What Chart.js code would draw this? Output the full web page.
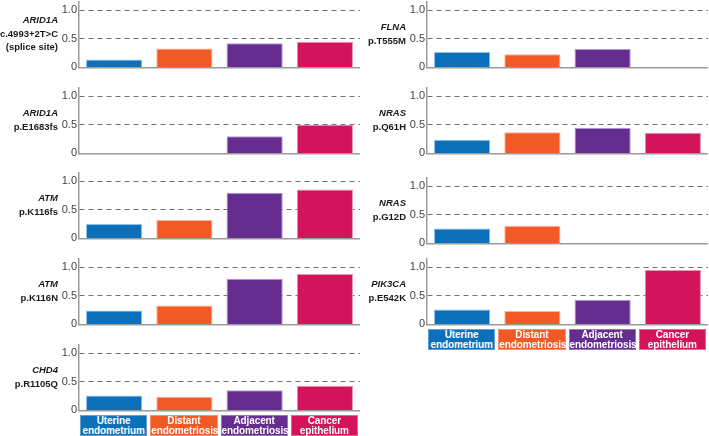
<!DOCTYPE html>
<html>
<head>
<meta charset="utf-8">
<script src="https://cdn.jsdelivr.net/npm/chart.js@4/dist/chart.umd.min.js"></script>
<style>
  body { margin: 0; width: 709px; height: 436px; background: #fff; position: relative; overflow: hidden;
         font-family: "Liberation Sans", Arial, sans-serif; }
  canvas { position: absolute; }
  .gene { position: absolute; text-align: right; font-weight: bold; font-size: 9.5px; line-height: 13.5px;
          color: #1a1a1a; transform: translateY(-50%); white-space: nowrap; }
  .leg { position: absolute; color: #fff; font-size: 10px; font-weight: bold; line-height: 10px; text-align: center;
         height: 21px; box-sizing: border-box; padding-top: 0; white-space: nowrap; letter-spacing: -0.1px;
         border: 1px solid rgba(255,255,255,0.35); }
</style>
</head>
<body>
<script>
// categories / colours
const categories = ['Uterine endometrium', 'Distant endometriosis', 'Adjacent endometriosis', 'Cancer epithelium'];
const legendLines = [['Uterine', 'endometrium'], ['Distant', 'endometriosis'], ['Adjacent', 'endometriosis'], ['Cancer', 'epithelium']];
const colors = ['#0b6fba', '#f15a24', '#662d91', '#d4145a'];
const edgeColors = ['#8fc0e6', '#f8b49a', '#b59ad0', '#ee93b5'];
const yTicks = [0, 0.5, 1];

// allele fractions per mutation
const arid1aSplice = [0.14, 0.33, 0.42, 0.45];
const arid1aE1683fs = [null, null, 0.30, 0.50];
const atmK116fs = [0.25, 0.32, 0.80, 0.855];
const atmK116N = [0.245, 0.33, 0.80, 0.88];
const chd4R1105Q = [0.26, 0.24, 0.35, 0.43];
const flnaT555M = [0.27, 0.23, 0.32, null];
const nrasQ61H = [0.24, 0.37, 0.45, 0.36];
const nrasG12D = [0.26, 0.31, null, null];
const pik3caE542K = [0.26, 0.235, 0.43, 0.95];

const panels = [
  { gene: 'ARID1A', variant: ['c.4993+2T>C', '(splice site)'], values: arid1aSplice, col: 0, zero: 67 },
  { gene: 'ARID1A', variant: ['p.E1683fs'], values: arid1aE1683fs, col: 0, zero: 153 },
  { gene: 'ATM', variant: ['p.K116fs'], values: atmK116fs, col: 0, zero: 238 },
  { gene: 'ATM', variant: ['p.K116N'], values: atmK116N, col: 0, zero: 324 },
  { gene: 'CHD4', variant: ['p.R1105Q'], values: chd4R1105Q, col: 0, zero: 410, legend: true },
  { gene: 'FLNA', variant: ['p.T555M'], values: flnaT555M, col: 1, zero: 67 },
  { gene: 'NRAS', variant: ['p.Q61H'], values: nrasQ61H, col: 1, zero: 153 },
  { gene: 'NRAS', variant: ['p.G12D'], values: nrasG12D, col: 1, zero: 243 },
  { gene: 'PIK3CA', variant: ['p.E542K'], values: pik3caE542K, col: 1, zero: 324, legend: true },
];

const colLeft = [49, 397];     // canvas left
const labelRight = [58, 406];  // gene label right edge
const CW = 311, CH = 83;

function makePanel(p) {
  const canvas = document.createElement('canvas');
  canvas.width = CW;
  canvas.height = CH;
  canvas.style.left = colLeft[p.col] + 'px';
  document.body.appendChild(canvas);

  const lbl = document.createElement('div');
  lbl.className = 'gene';
  lbl.style.left = (labelRight[p.col] - 90) + 'px';
  lbl.style.width = '90px';
  lbl.style.top = (p.zero - 34) + 'px';
  lbl.innerHTML = `<i>${p.gene}</i><br>` + p.variant.join('<br>');
  document.body.appendChild(lbl);

  const chart = new Chart(canvas, {
    type: 'bar',
    data: {
      labels: categories,
      datasets: [{
        data: p.values,
        backgroundColor: colors,
        borderColor: edgeColors,
        borderWidth: 1,
        barPercentage: 0.8,
        categoryPercentage: 1
      }]
    },
    options: {
      responsive: false,
      animation: false,
      devicePixelRatio: 1,
      events: [],
      layout: { padding: 0 },
      plugins: { legend: { display: false }, tooltip: { enabled: false } },
      scales: {
        x: {
          grid: { display: false },
          ticks: { display: false },
          border: { color: '#9a9a9a', width: 1.5 },
          afterFit: s => { s.height = 0; }
        },
        y: {
          min: 0,
          max: 1.15,
          afterBuildTicks: s => { s.ticks = yTicks.map(v => ({ value: v })); },
          ticks: {
            callback: v => v === 0 ? '0' : v.toFixed(1),
            font: { family: '"Liberation Sans", Arial, sans-serif', size: 11 },
            color: '#444',
            padding: 2
          },
          grid: {
            drawTicks: false,
            color: ctx => ctx.tick && ctx.tick.value === 0 ? 'rgba(0,0,0,0)' : '#707070',
            lineWidth: 1
          },
          border: { color: '#9a9a9a', width: 1.5, dash: [5, 4] },
          afterFit: s => { s.width = 30; }
        }
      }
    }
  });

  // line the zero of the y scale up with the panel baseline
  canvas.style.top = (p.zero - chart.scales.y.getPixelForValue(0)) + 'px';

  if (p.legend) {
    const xs = chart.scales.x;
    const step = xs.width / categories.length;
    legendLines.forEach((lines, i) => {
      const d = document.createElement('div');
      d.className = 'leg';
      const cx = colLeft[p.col] + xs.getPixelForValue(i);
      d.style.left = (cx - step / 2 + 1) + 'px';
      d.style.width = (step - 3) + 'px';
      d.style.top = (p.zero + 5) + 'px';
      d.style.background = colors[i];
      d.innerHTML = lines.join('<br>');
      document.body.appendChild(d);
    });
  }
}

panels.forEach(makePanel);
</script>
</body>
</html>
